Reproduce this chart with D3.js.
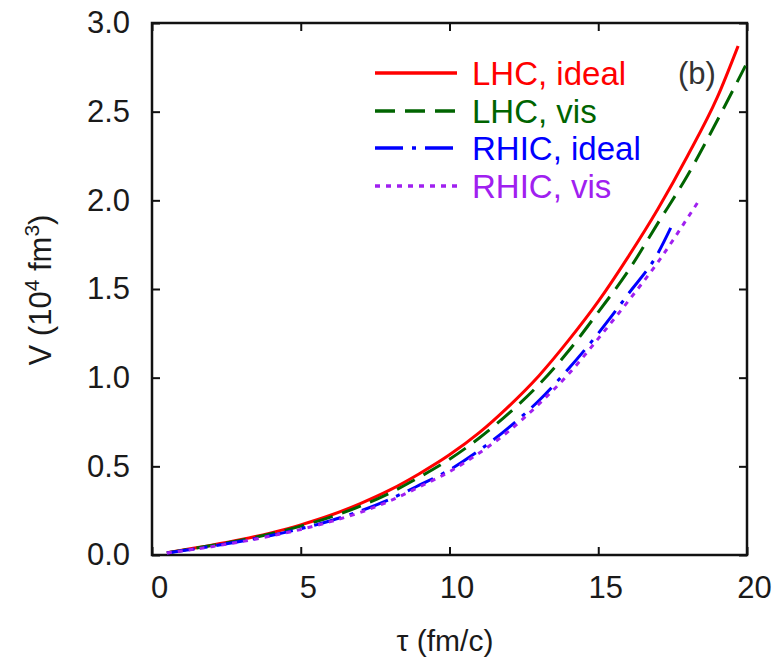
<!DOCTYPE html>
<html>
<head>
<meta charset="utf-8">
<script src="https://cdn.jsdelivr.net/npm/d3@7/dist/d3.min.js"></script>
<style>
  body { margin: 0; background: #fff; }
  svg { display: block; font-family: "Liberation Sans", Arial, sans-serif; }
</style>
</head>
<body>
<svg id="chart" width="782" height="660"></svg>
<script>
// ---- data ----
const tauLHCideal = [0.5,1,2,3,4,5,6,7,8,9,10,11,12,13,14,15,16,17,18,19,19.7];
const vLHCideal   = [0.013,0.027,0.055,0.087,0.125,0.17,0.224,0.29,0.367,0.46,0.565,0.69,0.84,1.01,1.21,1.43,1.68,1.95,2.25,2.58,2.87];

const tauLHCvis = [0.5,1,2,3,4,5,6,7,8,9,10,11,12,13,14,15,16,17,18,19,19.95];
const vLHCvis   = [0.012,0.026,0.053,0.084,0.12,0.163,0.214,0.275,0.35,0.44,0.54,0.66,0.80,0.96,1.15,1.37,1.60,1.87,2.14,2.45,2.76];

const tauRHICideal = [0.5,1,2,3,4,5,6,7,8,9,10,11,12,13,14,15,16,17,17.48];
const vRHICideal   = [0.011,0.024,0.049,0.078,0.11,0.148,0.193,0.248,0.315,0.395,0.48,0.59,0.72,0.87,1.05,1.25,1.47,1.70,1.86];

const tauRHICvis = [0.5,1,2,3,4,5,6,7,8,9,10,11,12,13,14,15,16,17,18,18.35];
const vRHICvis   = [0.011,0.023,0.047,0.075,0.107,0.144,0.188,0.24,0.305,0.385,0.47,0.575,0.70,0.85,1.02,1.22,1.43,1.65,1.90,1.99];

const seriesNames = ["LHC, ideal", "LHC, vis", "RHIC, ideal", "RHIC, vis"];
const xTicks = [0,5,10,15,20];
const yTicks = [0,0.5,1.0,1.5,2.0,2.5,3.0];

// ---- styles ----
const colors = ["#ff0000", "#006400", "#0000ff", "#a020f0"];
const dashes = [null, "20,10", "28,9,4,9", "5,6"];

const series = [
  {name: seriesNames[0], tau: tauLHCideal, v: vLHCideal},
  {name: seriesNames[1], tau: tauLHCvis, v: vLHCvis},
  {name: seriesNames[2], tau: tauRHICideal, v: vRHICideal},
  {name: seriesNames[3], tau: tauRHICvis, v: vRHICvis}
];

const svg = d3.select("#chart");
const L = 152, R = 747, T = 23, B = 555;
const x = d3.scaleLinear().domain([0,20]).range([L,R]);
const y = d3.scaleLinear().domain([0,3]).range([B,T]);

// axes
const fs = 31;
const gB = svg.append("g").attr("transform", `translate(0,${B})`)
  .call(d3.axisBottom(x).tickValues(xTicks).tickSize(-8).tickPadding(21).tickFormat(d3.format("d")));
gB.selectAll("text").attr("x", 7);
const gL = svg.append("g").attr("transform", `translate(${L},0)`)
  .call(d3.axisLeft(y).tickValues(yTicks).tickSize(-8).tickPadding(22).tickFormat(d3.format(".1f")));
const gT = svg.append("g").attr("transform", `translate(0,${T})`)
  .call(d3.axisTop(x).tickValues(xTicks).tickSize(-8).tickFormat(""));
const gR = svg.append("g").attr("transform", `translate(${R},0)`)
  .call(d3.axisRight(y).tickValues(yTicks).tickSize(-8).tickFormat(""));
[gB,gL,gT,gR].forEach(g => {
  g.select(".domain").remove();
  g.selectAll("line").attr("stroke", "#111").attr("stroke-width", 2);
  g.selectAll("text").attr("font-size", fs).attr("fill", "#1a1a1a")
    .attr("font-family", "'Liberation Sans', Arial, sans-serif");
});

// frame
svg.append("rect").attr("x", L).attr("y", T).attr("width", R-L).attr("height", B-T)
  .attr("fill", "none").attr("stroke", "#111").attr("stroke-width", 2.5);

// curves
const line = d3.line().x(d => x(d[0])).y(d => y(d[1])).curve(d3.curveMonotoneX);
series.forEach((s, i) => {
  const pts = s.tau.map((t, k) => [t, s.v[k]]);
  svg.append("path").datum(pts).attr("d", line)
    .attr("fill", "none").attr("stroke", colors[i]).attr("stroke-width", 3)
    .attr("stroke-dasharray", dashes[i]);
});

// legend
const legY = [73, 111, 148, 186];
series.forEach((s, i) => {
  svg.append("line").attr("x1", 375).attr("x2", 457).attr("y1", legY[i]).attr("y2", legY[i])
    .attr("stroke", colors[i]).attr("stroke-width", 3.5).attr("stroke-dasharray", dashes[i]);
  svg.append("text").attr("x", 472).attr("y", legY[i]).attr("dy", "0.36em")
    .attr("font-size", 33).attr("fill", colors[i]).text(s.name);
});

// panel label
svg.append("text").attr("x", 697).attr("y", 73).attr("dy", "0.36em").attr("text-anchor", "middle")
  .attr("font-size", fs).attr("fill", "#333").text("(b)");

// axis titles
svg.append("text").attr("x", 445).attr("y", 640).attr("dy", "0.36em").attr("text-anchor", "middle")
  .attr("font-size", 30).attr("fill", "#1a1a1a").text("τ (fm/c)");

const yt = svg.append("text").attr("transform", "translate(51,290) rotate(-90)")
  .attr("text-anchor", "middle").attr("font-size", 31).attr("fill", "#1a1a1a");
yt.append("tspan").text("V (10");
yt.append("tspan").attr("dy", -12).attr("font-size", 21).text("4");
yt.append("tspan").attr("dy", 12).text(" fm");
yt.append("tspan").attr("dy", -12).attr("font-size", 21).text("3");
yt.append("tspan").attr("dy", 12).text(")");
</script>
</body>
</html>
